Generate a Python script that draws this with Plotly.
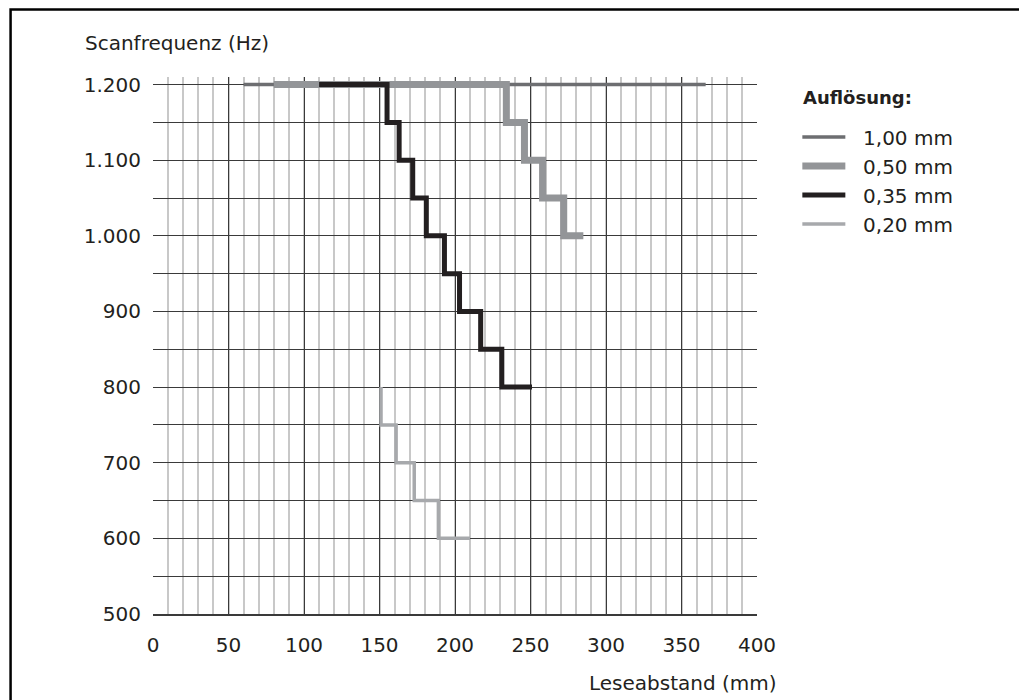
import plotly.graph_objects as go

# Auflösung series, step points (Leseabstand mm, Scanfrequenz Hz)
labels = ["1,00 mm", "0,50 mm", "0,35 mm", "0,20 mm"]

dist_100 = [60, 366]
freq_100 = [1200, 1200]

dist_050 = [80, 234, 246, 258, 272, 285]
freq_050 = [1200, 1150, 1100, 1050, 1000, 1000]

dist_035 = [110, 155, 163, 172, 181, 193, 203, 217, 231, 251]
freq_035 = [1200, 1150, 1100, 1050, 1000, 950, 900, 850, 800, 800]

dist_020 = [151, 151, 161, 173, 189, 210]
freq_020 = [800, 750, 700, 650, 600, 600]

x_ticks = [0, 50, 100, 150, 200, 250, 300, 350, 400]
y_ticks = [500, 600, 700, 800, 900, 1000, 1100, 1200]

TEXT = "#231f20"
FONT = "DejaVu Sans"
GRID = "#3a3a3a"
PAD = "\u00a0\u00a0"  # small gap between legend line and label
Y_TOP = 1210  # a little headroom so the 1.200 lines are not clipped

series = [
    (dist_100, freq_100, labels[0], "#6d6e71", 3.5),
    (dist_050, freq_050, labels[1], "#939598", 7),
    (dist_035, freq_035, labels[2], "#231f20", 5),
    (dist_020, freq_020, labels[3], "#a7a9ac", 3.5),
]

fig = go.Figure()
for xs, ys, name, color, width in series:
    fig.add_trace(
        go.Scatter(
            x=xs,
            y=ys,
            mode="lines",
            name=PAD + name,
            line={"color": color, "width": width, "shape": "hv"},
        )
    )

# hide the grid above 1.200 (headroom only)
fig.add_shape(
    type="rect",
    xref="paper",
    yref="y",
    x0=-0.01,
    x1=1.01,
    y0=1201,
    y1=Y_TOP + 2,
    fillcolor="#ffffff",
    line={"width": 0},
    layer="between",
)

# outer frame of the picture
fig.add_shape(
    type="rect",
    xref="paper",
    yref="paper",
    x0=-0.2358,
    x1=1.4397,
    y0=-0.2,
    y1=1.1255,
    line={"color": "#000000", "width": 2.5},
    fillcolor="rgba(0,0,0,0)",
    layer="above",
)

fig.add_annotation(
    text="Scanfrequenz (Hz)",
    xref="paper",
    yref="paper",
    x=-0.116,
    y=1.0641,
    xanchor="left",
    yanchor="middle",
    showarrow=False,
    font={"size": 20, "color": TEXT, "family": FONT},
)
fig.add_annotation(
    text="Leseabstand (mm)",
    xref="paper",
    yref="paper",
    x=1.036,
    y=-0.128,
    xanchor="right",
    yanchor="middle",
    showarrow=False,
    font={"size": 20, "color": TEXT, "family": FONT},
)
fig.add_annotation(
    text="Auflösung:",
    xref="paper",
    yref="paper",
    x=1.0734,
    y=0.9616,
    xanchor="left",
    yanchor="middle",
    showarrow=False,
    font={"size": 18, "color": TEXT, "family": FONT, "weight": "bold"},
)

fig.update_layout(
    width=1019,
    height=692,
    margin={"l": 145, "r": 270, "t": 69.4, "b": 85.7},
    paper_bgcolor="#ffffff",
    plot_bgcolor="#ffffff",
    font={"family": FONT, "size": 20, "color": TEXT},
    separators=",.",
    showlegend=True,
    legend={
        "x": 1.0668,
        "y": 0.9244,
        "xanchor": "left",
        "yanchor": "top",
        "itemwidth": 43,
        "font": {"size": 20, "family": FONT, "color": TEXT},
        "bgcolor": "rgba(0,0,0,0)",
    },
    xaxis={
        "range": [0, 400],
        "tickvals": x_ticks,
        "showgrid": True,
        "gridcolor": GRID,
        "gridwidth": 1.2,
        "minor": {"dtick": 10, "showgrid": True, "gridcolor": "#c8c8c8", "gridwidth": 1.5},
        "zeroline": False,
        "showline": True,
        "mirror": False,
        "linecolor": GRID,
        "linewidth": 1.5,
        "ticks": "",
        "ticklabelstandoff": 12,
        "fixedrange": True,
    },
    yaxis={
        "range": [500, Y_TOP],
        "tickvals": y_ticks,
        "tickformat": ",d",
        "showgrid": True,
        "gridcolor": GRID,
        "gridwidth": 1.2,
        "minor": {"dtick": 50, "showgrid": True, "gridcolor": GRID, "gridwidth": 1.2},
        "zeroline": False,
        "showline": False,
        "ticks": "",
        "ticklabelstandoff": 11,
        "fixedrange": True,
    },
)

fig.write_html("out.html")
